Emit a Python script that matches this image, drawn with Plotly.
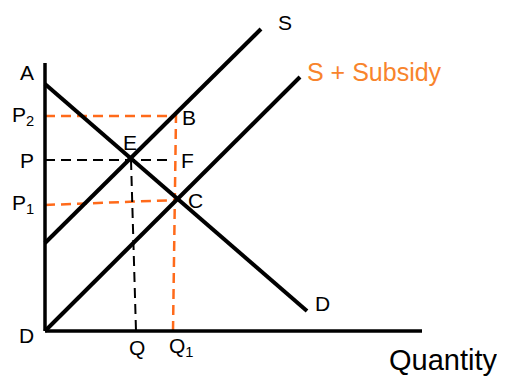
import plotly.graph_objects as go

# ---- data (chart units: quantity on x, price on y) ----
axis_x_end = 377
axis_y_end = 268

demand_x = [0, 262]
demand_y = [247, 20]

supply_x = [0, 216]
supply_y = [88, 302]

subsidy_x = [0, 255]
subsidy_y = [0, 254]

price_names = ["A", "P<sub>2</sub>", "P", "P<sub>1</sub>", "D"]
price_values = [259, 215, 171, 127, -4]

qty_names = ["Q", "Q<sub>1</sub>"]
qty_values = [92, 122]

P2_line_x = [0, 131, 128]
P2_line_y = [215, 215, 0]
P1_line_x = [0, 132]
P1_line_y = [126, 131]
P_line_x = [0, 127]
P_line_y = [171, 171]
Q_line_x = [86, 91]
Q_line_y = [171, 0]

point_names = ["E", "F", "B", "C"]
point_x = [85, 142, 144, 150]
point_y = [189, 171, 214, 131]

ORANGE = "#FF6A1A"
ORANGE_TXT = "#F8842C"
FONT = "Liberation Sans, Arial, Helvetica, sans-serif"

fig = go.Figure()

def seg(x, y, color, width, dash="solid"):
    fig.add_trace(go.Scatter(x=x, y=y, mode="lines",
                             line=dict(color=color, width=width, dash=dash),
                             hoverinfo="skip", showlegend=False))

# dashed guide lines
seg(P2_line_x, P2_line_y, ORANGE, 2.5, "10px,6px")
seg(P1_line_x, P1_line_y, ORANGE, 2.5, "10px,6px")
seg(P_line_x, P_line_y, "black", 2, "10px,6px")
seg(Q_line_x, Q_line_y, "black", 2, "10px,6px")

# axes
seg([0, 0], [axis_y_end, 0], "black", 3.5)
seg([0, axis_x_end], [0, 0], "black", 3.5)

# curves
seg(demand_x, demand_y, "black", 4)
seg(supply_x, supply_y, "black", 4)
seg(subsidy_x, subsidy_y, "black", 4)

ann = []
def label(text, x, y, size=21, color="black", xanchor="center"):
    ann.append(dict(text=text, x=x, y=y, xref="x", yref="y", showarrow=False,
                    xanchor=xanchor, yanchor="middle",
                    font=dict(family=FONT, size=size, color=color)))

label("Price", -38, 309, size=31, xanchor="left")
label("Quantity", 455, -29, size=29, xanchor="right")

for n, v in zip(price_names, price_values):
    label(n, -9, v, xanchor="right")

for n, v in zip(qty_names, qty_values):
    label(n, v, -16, xanchor="center" if n == "Q" else "left")

for n, x, y in zip(point_names, point_x, point_y):
    label(n, x, y)

label("S", supply_x[1] + 24, supply_y[1] + 7)
label("S + Subsidy", subsidy_x[1] + 5, subsidy_y[1] + 5, size=25,
      color=ORANGE_TXT, xanchor="left")
label("D", demand_x[1] + 15, demand_y[1] + 8)

# the page adds an 8px body margin, so the figure is drawn 8px smaller
fig.update_layout(
    width=497, height=371,
    margin=dict(l=0, r=0, t=0, b=0),
    paper_bgcolor="white", plot_bgcolor="white",
    xaxis=dict(range=[-37, 460], visible=False, fixedrange=True),
    yaxis=dict(range=[-48, 323], visible=False, fixedrange=True),
    annotations=ann,
    showlegend=False,
)

fig.write_html("out.html")
